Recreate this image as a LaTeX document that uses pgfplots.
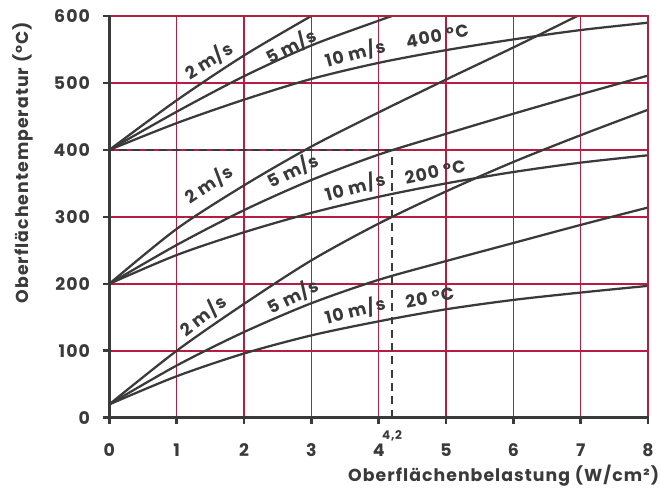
\documentclass[border=0pt]{standalone}
\usepackage{pgfplots}
\pgfplotsset{compat=1.18}
\usepackage{fontspec}
\setmainfont{Poppins}[LetterSpace=6]
\definecolor{dark}{RGB}{58,58,58}
\definecolor{crimson}{RGB}{184,28,64}
\begin{document}
\bfseries\fontsize{13}{15}\selectfont
\begin{tikzpicture}[text=dark]
\useasboundingbox (-82pt,-52.5pt) rectangle (413.25pt,313.5pt);
\begin{axis}[
    at={(0,0)}, anchor=south west,
    scale only axis,
    width=404.25pt, height=301.5pt,
    xmin=0, xmax=8, ymin=0, ymax=600,
    xtick={0,...,8}, ytick={0,100,...,600},
    axis line style={draw=none},
    grid=major,
    grid style={crimson, line width=1.2pt},
    tick pos=left, tick align=outside,
    major tick length=5pt,
    tick style={dark, line width=2pt},
    /pgf/number format/assume math mode=true,
    xticklabel style={yshift=-10pt},
    yticklabel style={xshift=-5pt},
    xlabel={Oberflächenbelastung (W/cm²)},
    ylabel={Oberflächentemperatur (°C)},
    xlabel style={at={(rel axis cs:1.032,-0.144)}, anchor=east},
    ylabel style={at={(rel axis cs:-0.160,1)}, anchor=east},
    curve/.style={dark, line width=1.7pt, smooth, no marks},
]
% 400 °C
\addplot[curve] coordinates {(0,400)(1,474)(2,541)(3,600)};
\addplot[curve] coordinates {(0,400)(1,457)(2,510)(3,556)(4,593)(4.2,600)};
\addplot[curve] coordinates {(0,400)(1,440)(2,475)(3,506)(4,530)(5,549)(6,565)(7,579)(8,590)};
% 200 °C
\addplot[curve] coordinates {(0,200)(1,282)(2,347)(3,405)(4,456)(5,505)(6,553)(6.95,600)};
\addplot[curve] coordinates {(0,200)(1,258)(2,310)(3,355)(4,393)(5,424)(6,454)(7,483)(8,511)};
\addplot[curve] coordinates {(0,200)(1,243)(2,277)(3,306)(4,330)(5,350)(6,367)(7,381)(8,392)};
% 20 °C
\addplot[curve] coordinates {(0,20)(1,100)(2,170)(3,235)(4,290)(5,338)(6,382)(7,422)(8,460)};
\addplot[curve] coordinates {(0,20)(1,78)(2,128)(3,171)(4,206)(5,234)(6,261)(7,288)(8,314)};
\addplot[curve] coordinates {(0,20)(1,62)(2,96)(3,123)(4,144)(5,162)(6,176)(7,187)(8,197)};
% reading example
\addplot[dark, line width=1.1pt, sharp plot, no marks, dash pattern=on 6pt off 4pt] coordinates {(4.2,0)(4.2,400)(0,400)};

\node[rotate=32] at (axis cs:1.48,533) {2 m/s};
\node[rotate=27] at (axis cs:2.70,554) {5 m/s};
\node[rotate=15] at (axis cs:3.65,544) {10 m/s};
\node[rotate=11] at (axis cs:4.87,570) {400 °C};

\node[rotate=34] at (axis cs:1.48,349) {2 m/s};
\node[rotate=26] at (axis cs:2.73,369) {5 m/s};
\node[rotate=15] at (axis cs:3.65,345) {10 m/s};
\node[rotate=12] at (axis cs:4.84,367) {200 °C};

\node[rotate=38] at (axis cs:1.39,152) {2 m/s};
\node[rotate=26] at (axis cs:2.73,181) {5 m/s};
\node[rotate=14] at (axis cs:3.65,160) {10 m/s};
\node[rotate=11] at (axis cs:4.76,180) {20 °C};

\coordinate (p42) at (axis cs:4.2,0);
\coordinate (NW) at (rel axis cs:0,1);
\coordinate (NE) at (rel axis cs:1,1);
\coordinate (SE) at (rel axis cs:1,0);
\coordinate (SW) at (rel axis cs:0,0);
\end{axis}
\draw[crimson, line width=2.2pt] (NW) -- (NE) -- (SE);
\draw[dark, line width=2.2pt, line cap=rect] (NW) -- (SW) -- (SE);
\node[font=\bfseries\fontsize{9}{10}\selectfont, anchor=north] at ([yshift=-5pt]p42) {4,2};
\end{tikzpicture}
\end{document}
